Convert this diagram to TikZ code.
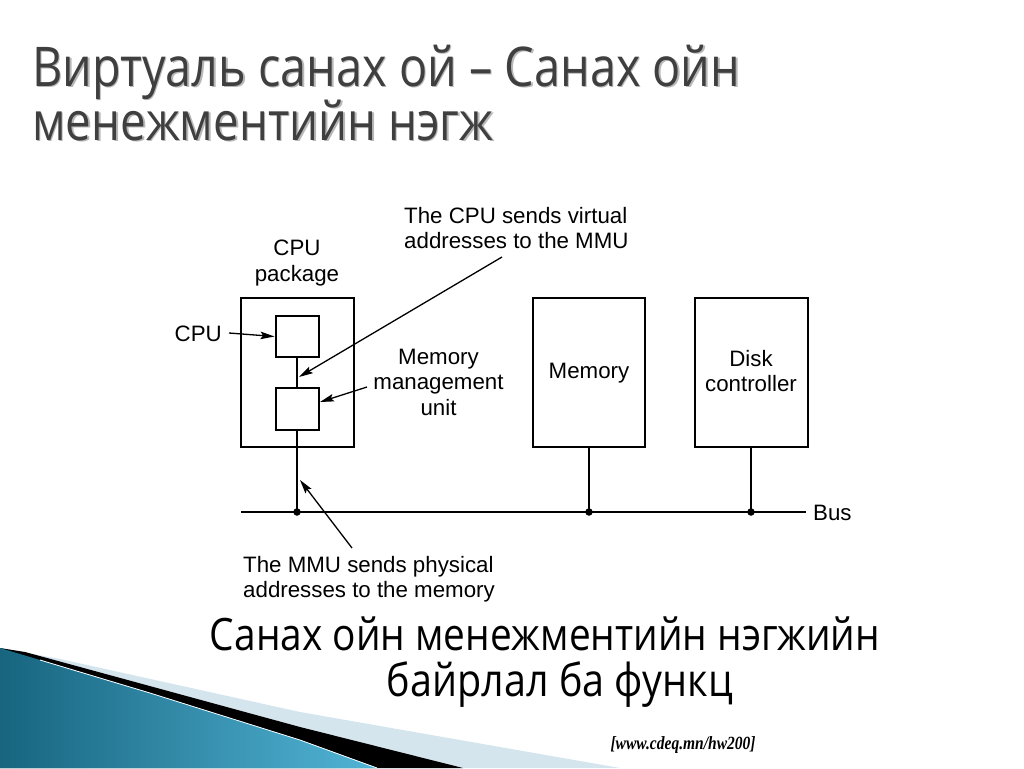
\documentclass[tikz,border=0pt]{standalone}
\usepackage{fontspec}
\setmainfont{Liberation Sans}
\newfontfamily\titlefont{Open Sans}
\newfontfamily\footfont{Liberation Serif}
\usetikzlibrary{arrows.meta}
\definecolor{tealdark}{HTML}{17657F}
\definecolor{teallight}{HTML}{52B4D6}
\definecolor{paleblue}{HTML}{D5E5EE}
\definecolor{titlegray}{HTML}{3F3F3F}
\definecolor{shadowgray}{HTML}{B8B8B8}
\begin{document}
\begin{tikzpicture}[x=1pt,y=-1pt,
  box/.style={draw, line width=2pt, inner sep=0pt},
  lbl/.style={font=\fontsize{22.3}{25.5}\selectfont, inner sep=0pt, align=center},
  arr/.style={line width=1.3pt, -{Stealth[length=14pt,width=7.5pt,inset=2.5pt]}},
  wire/.style={line width=2pt},
  dot/.style={circle, fill, inner sep=0pt, minimum size=7.5pt},
  ttl/.style={inner sep=0pt, anchor=base west, font=\titlefont\fontsize{40}{48}\selectfont},
  capt/.style={inner sep=0pt, anchor=base, font=\titlefont\fontsize{34}{40}\selectfont}]
\useasboundingbox (0,0) rectangle (1024,768);
\fill[white] (0,0) rectangle (1024,768);

% decoration bottom left
\fill[paleblue] (0,648) -- (60,659) -- (300,712) -- (620,768) -- (0,768) -- cycle;
\fill[black] (0,648) -- (25,652) -- (300,727) -- (463,768) -- (0,768) -- cycle;
\shade[left color=tealdark, right color=teallight, shading angle=90]
  (0,648) -- (150,693) -- (300,740) -- (377,768) -- (0,768) -- cycle;
\draw[white, line width=0.8pt] (40,660) -- (150,693) -- (300,740) -- (377,768);

% title
\node[ttl, text=shadowgray] at (33.5,87.5) {\resizebox{708pt}{!}{\scalebox{1}[1.17]{Виртуаль санах ой – Санах ойн}}};
\node[ttl, text=titlegray] (t1) at (32,86) {\resizebox{708pt}{!}{\scalebox{1}[1.17]{Виртуаль санах ой – Санах ойн}}};
\node[ttl, text=shadowgray] at (33.5,141.5) {\resizebox{461pt}{!}{\scalebox{1}[1.17]{менежментийн нэгж}}};
\node[ttl, text=titlegray] (t2) at (32,140) {\resizebox{461pt}{!}{\scalebox{1}[1.17]{менежментийн нэгж}}};

% boxes
\node[box, minimum width=113pt, minimum height=149pt] (pkg) at (297.5,372.5) {};
\node[box, minimum width=43pt, minimum height=41pt] (cpu) at (297,336.5) {};
\node[box, minimum width=43pt, minimum height=42pt] (mmu) at (297,409) {};
\node[box, minimum width=112pt, minimum height=149pt] (mem) at (589,372.5) {};
\node[box, minimum width=113pt, minimum height=149pt] (disk) at (751,372.5) {};

% bus
\coordinate (busL) at (241,512);
\coordinate (busR) at (806,512);
\node[dot] (d1) at (297,512) {};
\node[dot] (d2) at (589,512) {};
\node[dot] (d3) at (751,512) {};
\draw[wire] (busL) -- (busR);
\draw[wire] (cpu.south) -- (mmu.north);
\draw[wire] (mmu.south) -- (d1.center);
\draw[wire] (mem.south) -- (d2.center);
\draw[wire] (disk.south) -- (d3.center);

% labels
\node[lbl, anchor=west, align=left] (cpusend) at (404,228) {The CPU sends virtual\\addresses to the MMU};
\node[lbl] (pkgtxt) at (297,263) {CPU\\package};
\node[lbl, anchor=east] (cputxt) at (222,334) {CPU};
\node[lbl] (mmutxt) at (438.5,382) {Memory\\management\\unit};
\node[lbl] (memtxt) at (589,373) {Memory};
\node[lbl] (disktxt) at (751,371) {Disk\\controller};
\node[lbl, anchor=west] (bustxt) at (813,513) {Bus};
\node[lbl, anchor=west, align=left] (mmusend) at (243,579) {The MMU sends physical\\addresses to the memory};

% arrows
\coordinate (a1s) at (229,333);
\draw[arr] (a1s) -- (cpu.west);
\coordinate (a2s) at (502,257);
\coordinate (a2e) at (299,377);
\draw[arr] (a2s) -- (a2e);
\coordinate (a3s) at (367,387);
\coordinate (a3e) at (320,402);
\draw[arr] (a3s) -- (a3e);
\coordinate (a4s) at (352,548);
\coordinate (a4e) at (300,480);
\draw[arr] (a4s) -- (a4e);

% caption
\node[capt] (cap1) at (545,650) {\resizebox{670pt}{!}{\scalebox{1}[1.15]{Санах ойн менежментийн нэгжийн}}};
\node[capt] (cap2) at (560,696) {\resizebox{346pt}{!}{\scalebox{1}[1.15]{байрлал ба функц}}};

% footer
\node[inner sep=0pt] (foot) at (683,745) {\resizebox{145pt}{!}{\scalebox{1}[1.2]{\footfont\itshape\bfseries [www.cdeq.mn/hw200]}}};
\end{tikzpicture}
\end{document}
